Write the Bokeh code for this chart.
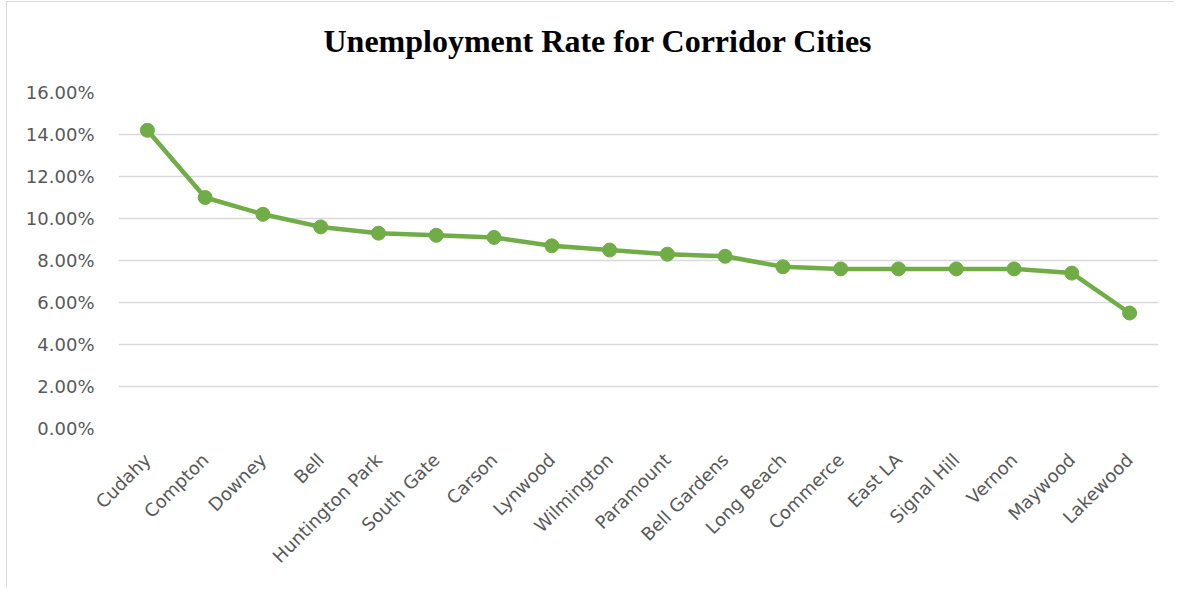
import math
from bokeh.plotting import figure
from bokeh.models import Range1d, FixedTicker, NumeralTickFormatter, Title
from bokeh.embed import file_html
from bokeh.resources import INLINE

cities = ["Cudahy", "Compton", "Downey", "Bell", "Huntington Park", "South Gate",
          "Carson", "Lynwood", "Wilmington", "Paramount", "Bell Gardens", "Long Beach",
          "Commerce", "East LA", "Signal Hill", "Vernon", "Maywood", "Lakewood"]
rates = [0.142, 0.110, 0.102, 0.096, 0.093, 0.092, 0.091, 0.087, 0.085, 0.083,
         0.082, 0.077, 0.076, 0.076, 0.076, 0.076, 0.074, 0.055]
y_ticks = [0.0, 0.02, 0.04, 0.06, 0.08, 0.10, 0.12, 0.14, 0.16]
title_text = "Unemployment Rate for Corridor Cities"

p = figure(x_range=cities, y_range=Range1d(0, 0.16), width=1168, height=586,
           output_backend="svg", toolbar_location=None,
           min_border_left=111, min_border_right=17, min_border_top=90, min_border_bottom=160)
p.x_range.range_padding = 0

# invisible spacer between frame and title
spacer = Title(text=" ", text_font_size="1px", standoff=26, text_color="white")
p.add_layout(spacer, "above")
t = Title(text=title_text, align="left", vertical_align="bottom",
          text_font="Liberation Serif", text_font_size="32px", text_font_style="bold",
          text_color="#000000", standoff=10, offset=205)
p.add_layout(t, "above")

p.outline_line_color = None
p.background_fill_color = "white"
p.border_fill_color = "white"
p.styles = {"border-left": "1px solid #d9d9d9", "border-top": "1px solid #d9d9d9",
            "margin-left": "6px", "margin-top": "1px"}

p.xgrid.grid_line_color = None
p.ygrid.grid_line_color = "#d9d9d9"
p.ygrid.grid_line_width = 1.5

p.yaxis.ticker = FixedTicker(ticks=y_ticks)
p.yaxis.formatter = NumeralTickFormatter(format="0.00%")
for ax in (p.xaxis[0], p.yaxis[0]):
    ax.axis_line_color = None
    ax.major_tick_line_color = None
    ax.minor_tick_line_color = None
    ax.major_label_text_color = "#595959"
    ax.major_label_text_font = "DejaVu Sans"
    ax.major_label_text_font_size = "18px"
p.yaxis.major_label_standoff = 18
p.xaxis.major_label_orientation = math.pi / 4
p.xaxis.major_label_standoff = 22

p.line(cities, rates, line_color="#70ad47", line_width=4.5)
p.scatter(cities, rates, size=14, fill_color="#70ad47", line_color="#70ad47")

open("out.html", "w").write(file_html(p, INLINE))
